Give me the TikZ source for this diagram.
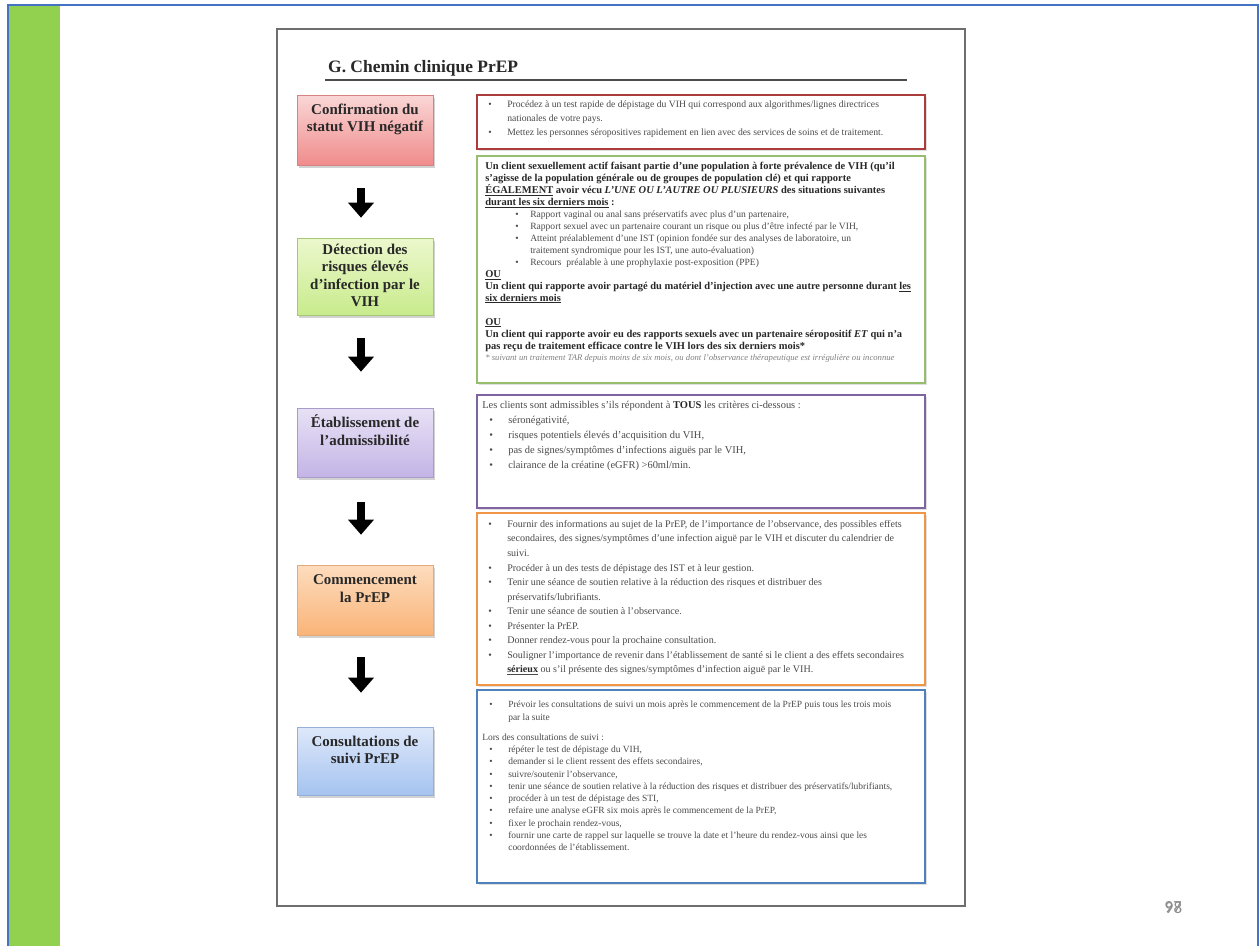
\documentclass[tikz,border=0pt]{standalone}
\usepackage{fontspec}
\setmainfont{Liberation Serif}
\newfontfamily\numfont{Carlito}
\usetikzlibrary{arrows.meta,shadows}
\definecolor{frameblue}{RGB}{68,114,196}
\definecolor{bandgreen}{RGB}{146,208,80}
\definecolor{pageframe}{RGB}{110,110,110}
\definecolor{pinkT}{RGB}{250,214,214}
\definecolor{pinkB}{RGB}{240,140,140}
\definecolor{pinkD}{RGB}{215,130,130}
\definecolor{redL}{RGB}{170,60,60}
\definecolor{grnT}{RGB}{236,248,205}
\definecolor{grnB}{RGB}{200,235,140}
\definecolor{grnD}{RGB}{165,200,120}
\definecolor{grnL}{RGB}{150,190,110}
\definecolor{purT}{RGB}{232,225,245}
\definecolor{purB}{RGB}{195,180,230}
\definecolor{purD}{RGB}{170,155,205}
\definecolor{purL}{RGB}{128,100,162}
\definecolor{orgT}{RGB}{253,220,190}
\definecolor{orgB}{RGB}{249,180,120}
\definecolor{orgD}{RGB}{230,170,120}
\definecolor{orgL}{RGB}{240,150,70}
\definecolor{bluT}{RGB}{222,232,250}
\definecolor{bluB}{RGB}{165,195,240}
\definecolor{bluD}{RGB}{150,175,215}
\definecolor{bluL}{RGB}{79,129,189}
\definecolor{txt}{RGB}{75,75,75}
\definecolor{btxt}{RGB}{40,40,40}
\newcommand\bu{\makebox[19bp][l]{\textbullet}}
\newcommand\ct{\hspace*{19bp}}
\newcommand\sbu{\hspace*{30bp}\makebox[15bp][l]{\textbullet}}
\newcommand\sct{\hspace*{45bp}}
\newcommand\bl[1]{{\fontsize{10.5}{12}\selectfont\bfseries\color{btxt}#1}}
\tikzset{
  lbox/.style={rectangle, minimum width=136bp, minimum height=#1, inner sep=0, line width=0.6bp,
    drop shadow={shadow xshift=2bp, shadow yshift=-3bp, opacity=0.35}},
  ltext/.style={anchor=north, align=center, inner sep=0, text=btxt,
    font=\bfseries\fontsize{15}{17.5}\selectfont},
  rbox/.style={rectangle, minimum width=448bp, minimum height=#1, inner sep=0, line width=1.8bp, fill=white,
    drop shadow={shadow xshift=1.5bp, shadow yshift=-1.5bp, opacity=0.25}},
  rtext/.style={anchor=north west, align=left, inner sep=0, text=txt},
  bigarrow/.style={line width=7.5bp, black, -{Triangle[width=25bp,length=15bp]}},
}
\begin{document}
\begin{tikzpicture}[x=1bp,y=-1bp]
\useasboundingbox (0,0) rectangle (1259,946);
\fill[white] (0,0) rectangle (1259,946);
\fill[bandgreen] (8,5) rectangle (60,946);
\draw[frameblue, line width=2bp] (8,950) -- (8,5) -- (1258,5) -- (1258,950);
\draw[pageframe, line width=1.8bp] (277,29) rectangle (965,906);

% title
\node[anchor=west, inner sep=0, text=btxt, font=\bfseries\fontsize{17.5}{20}\selectfont] (title) at (328,68) {G. Chemin clinique PrEP};
\draw[black!70, line width=1.5bp] (325,80) -- (907,80);

% left boxes
\node[lbox=70bp, top color=pinkT, bottom color=pinkB, draw=pinkD] (c1) at (365,130) {};
\node[lbox=77bp, top color=grnT, bottom color=grnB, draw=grnD] (c2) at (365,276.5) {};
\node[lbox=69bp, top color=purT, bottom color=purB, draw=purD] (c3) at (365,442.5) {};
\node[lbox=70bp, top color=orgT, bottom color=orgB, draw=orgD] (c4) at (365,600) {};
\node[lbox=68bp, top color=bluT, bottom color=bluB, draw=bluD] (c5) at (365,761) {};

\node[ltext] (t1) at ([yshift=-9bp]c1.north) {Confirmation du\\statut VIH négatif};
\node[ltext] (t2) at ([yshift=-6bp]c2.north) {Détection des\\risques élevés\\d'infection par le\\VIH};
\node[ltext] (t3) at ([yshift=-7bp]c3.north) {Établissement de\\l'admissibilité};
\node[ltext] (t4) at ([yshift=-10bp]c4.north) {Commencement\\la PrEP};
\node[ltext] (t5) at ([yshift=-9bp]c5.north) {Consultations de\\suivi PrEP};

% arrows
\draw[bigarrow, shorten <=23bp, shorten >=20bp] ([xshift=-4bp]c1.south) -- ([xshift=-4bp]c2.north);
\draw[bigarrow, shorten <=23bp, shorten >=36bp] ([xshift=-4bp]c2.south) -- ([xshift=-4bp]c3.north);
\draw[bigarrow, shorten <=25bp, shorten >=30bp] ([xshift=-4bp]c3.south) -- ([xshift=-4bp]c4.north);
\draw[bigarrow, shorten <=22bp, shorten >=34bp] ([xshift=-4bp]c4.south) -- ([xshift=-4bp]c5.north);

% right boxes
\node[rbox=54bp, draw=redL] (r1) at (701,122) {};
\node[rbox=227bp, draw=grnL] (r2) at (701,269.5) {};
\node[rbox=113bp, draw=purL] (r3) at (701,451.5) {};
\node[rbox=172bp, draw=orgL] (r4) at (701,599) {};
\node[rbox=193bp, draw=bluL] (r5) at (701,786.5) {};

\node[rtext, font=\fontsize{9.7}{14.5}\selectfont] (r1t) at ([xshift=12bp,yshift=-6bp]r1.north west) {%
\bu Procédez à un test rapide de dépistage du VIH qui correspond aux algorithmes/lignes directrices\\
\ct nationales de votre pays.\\
\bu Mettez les personnes séropositives rapidement en lien avec des services de soins et de traitement.};

\node[rtext, font=\fontsize{9.6}{12}\selectfont] (r2t) at ([xshift=9bp,yshift=-7bp]r2.north west) {%
\bl{Un client sexuellement actif faisant partie d'une population à forte prévalence de VIH (qu'il}\\
\bl{s'agisse de la population générale ou de groupes de population clé) et qui rapporte}\\
\bl{\underline{ÉGALEMENT} avoir vécu \textit{L'UNE OU L'AUTRE OU PLUSIEURS} des situations suivantes}\\
\bl{\underline{durant les six derniers mois} :}\\
\sbu Rapport vaginal ou anal sans préservatifs avec plus d'un partenaire,\\
\sbu Rapport sexuel avec un partenaire courant un risque ou plus d'être infecté par le VIH,\\
\sbu Atteint préalablement d'une IST (opinion fondée sur des analyses de laboratoire, un\\
\sct traitement syndromique pour les IST, une auto-évaluation)\\
\sbu Recours\ \ préalable à une prophylaxie post-exposition (PPE)\\
\bl{\underline{OU}}\\
\bl{Un client qui rapporte avoir partagé du matériel d'injection avec une autre personne durant \underline{les}}\\
\bl{\underline{six derniers mois}}\\[12bp]
\bl{\underline{OU}}\\
\bl{Un client qui rapporte avoir eu des rapports sexuels avec un partenaire séropositif \textit{ET} qui n'a}\\
\bl{pas reçu de traitement efficace contre le VIH lors des six derniers mois*}\\
{\itshape\fontsize{8.7}{12}\selectfont\color{black!50}* suivant un traitement TAR depuis moins de six mois, ou dont l'observance thérapeutique est irrégulière ou inconnue}};

\node[rtext, font=\fontsize{10.5}{15}\selectfont] (r3t) at ([xshift=6bp,yshift=-7bp]r3.north west) {%
Les clients sont admissibles s'ils répondent à {\bfseries\color{btxt}TOUS} les critères ci-dessous :\\
\hspace*{7bp}\bu séronégativité,\\
\hspace*{7bp}\bu risques potentiels élevés d'acquisition du VIH,\\
\hspace*{7bp}\bu pas de signes/symptômes d'infections aiguës par le VIH,\\
\hspace*{7bp}\bu clairance de la créatine (eGFR) >60ml/min.};

\node[rtext, font=\fontsize{10.1}{14.6}\selectfont] (r4t) at ([xshift=12bp,yshift=-8bp]r4.north west) {%
\bu Fournir des informations au sujet de la PrEP, de l'importance de l'observance, des possibles effets\\
\ct secondaires, des signes/symptômes d'une infection aiguë par le VIH et discuter du calendrier de\\
\ct suivi.\\
\bu Procéder à un des tests de dépistage des IST et à leur gestion.\\
\bu Tenir une séance de soutien relative à la réduction des risques et distribuer des\\
\ct préservatifs/lubrifiants.\\
\bu Tenir une séance de soutien à l'observance.\\
\bu Présenter la PrEP.\\
\bu Donner rendez-vous pour la prochaine consultation.\\
\bu Souligner l'importance de revenir dans l'établissement de santé si le client a des effets secondaires\\
\ct \underline{\bfseries\color{btxt}sérieux} ou s'il présente des signes/symptômes d'infection aiguë par le VIH.};

\node[rtext, font=\fontsize{9.5}{12.3}\selectfont] (r5t) at ([xshift=6bp,yshift=-12bp]r5.north west) {%
\hspace*{7bp}\bu Prévoir les consultations de suivi un mois après le commencement de la PrEP puis tous les trois mois\\
\hspace*{7bp}\ct par la suite\\[8bp]
Lors des consultations de suivi :\\
\hspace*{7bp}\bu répéter le test de dépistage du VIH,\\
\hspace*{7bp}\bu demander si le client ressent des effets secondaires,\\
\hspace*{7bp}\bu suivre/soutenir l'observance,\\
\hspace*{7bp}\bu tenir une séance de soutien relative à la réduction des risques et distribuer des préservatifs/lubrifiants,\\
\hspace*{7bp}\bu procéder à un test de dépistage des STI,\\
\hspace*{7bp}\bu refaire une analyse eGFR six mois après le commencement de la PrEP,\\
\hspace*{7bp}\bu fixer le prochain rendez-vous,\\
\hspace*{7bp}\bu fournir une carte de rappel sur laquelle se trouve la date et l'heure du rendez-vous ainsi que les\\
\hspace*{7bp}\ct coordonnées de l'établissement.};

% page number
\node[text=black!45, font=\numfont\fontsize{17}{17}\selectfont] (pn1) at (1173,907) {97};
\node[text=black!45, font=\numfont\fontsize{17}{17}\selectfont] (pn2) at (1173.5,907.5) {98};
\end{tikzpicture}
\end{document}
